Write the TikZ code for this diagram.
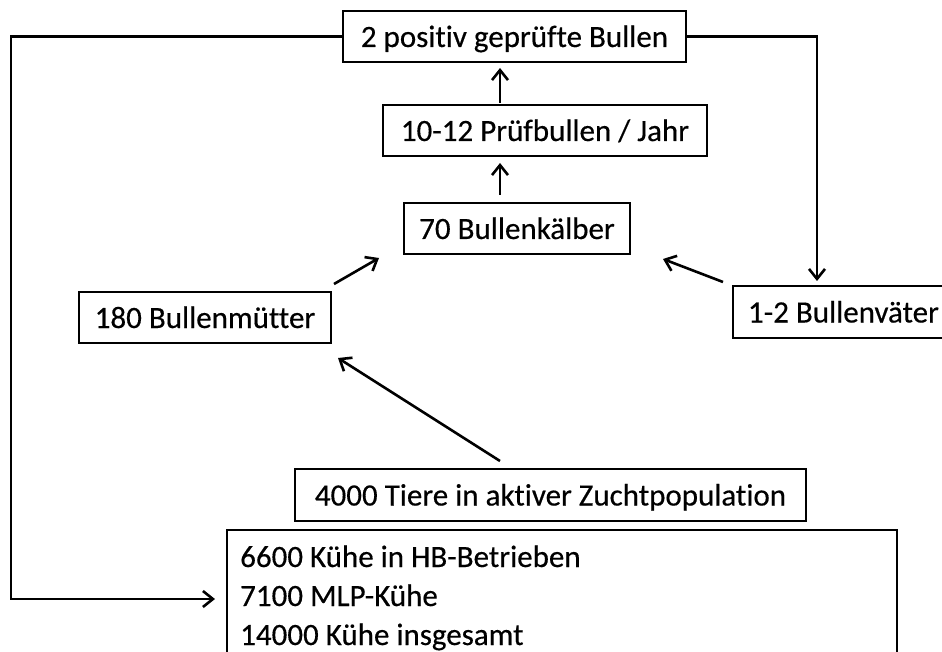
\documentclass[tikz,border=0pt]{standalone}
\usepackage{fontspec}
\setmainfont{Carlito}[Ligatures=NoCommon, FakeBold=0.4]
\usetikzlibrary{arrows.meta,calc}

\tikzset{
  box/.style={draw=black, line width=2pt, rectangle, inner sep=0pt,
              minimum height=51pt, text height=28pt, text depth=7pt,
              font=\fontsize{31}{37}\selectfont},
  line/.style={draw=black, line width=2.6pt, line join=miter},
  arr/.style={line, -{Straight Barb[length=10pt,width=16pt,line width=2.6pt]}},
  plain/.style={inner sep=0pt, anchor=base west, font=\fontsize{31}{37}\selectfont}
}

\begin{document}
\begin{tikzpicture}[x=1pt, y=-1pt]
  \useasboundingbox (0,0) rectangle (942,652);

  % boxes of the breeding scheme
  \node[box, minimum width=343pt] (top)   at (514.5,36.5)  {2 positiv geprüfte Bullen};
  \node[box, minimum width=324pt] (prue)  at (545,130.5)   {10-12 Prüfbullen / Jahr};
  \node[box, minimum width=226pt] (kalb)  at (517,228.5)   {70 Bullenkälber};
  \node[box, minimum width=252pt] (mue)   at (205,317.5)   {180 Bullenmütter};
  \node[box, anchor=west, inner xsep=15pt, minimum height=52pt] (vat) at (732,312) {1-2 Bullenväter};
  \node[box, minimum width=511pt, minimum height=52pt] (zucht) at (550.5,495) {4000 Tiere in aktiver Zuchtpopulation};
  \node[box, anchor=north west, minimum width=670pt, minimum height=170pt] (herd) at (226,529) {};

  % herd figures
  \node[plain] (h1) at (240,567) {6600 Kühe in HB-Betrieben};
  \node[plain] (h2) at (240,606) {7100 MLP-Kühe};
  \node[plain] (h3) at (240,645) {14000 Kühe insgesamt};

  % helper coordinates for the routed lines
  \coordinate (ax) at (500,0);
  \coordinate (lc) at (11,599);
  \coordinate (rc) at (817,0);

  % vertical chain
  \draw[arr, shorten <=1pt, shorten >=5pt] (prue.north -| ax) -- (top.south -| ax);
  \draw[arr, shorten <=7pt, shorten >=6pt] (kalb.north -| ax) -- (prue.south -| ax);

  % parents to calves
  \draw[arr] ($(mue.north east)+(2,-7)$) -- ($(kalb.south west)+(-24,3)$);
  \draw[arr] ($(vat.north west)+(-9,-3)$) -- ($(kalb.south east)+(32,4)$);

  % population to bull dams
  \draw[arr] ($(zucht.north)+(-50.5,-7)$) -- ($(mue.south east)+(6,14)$);

  % feedback of proven bulls
  \draw[arr, shorten >=11pt] (top.west) -| (lc) -- (lc -| herd.west);
  \draw[arr, shorten >=4pt] (top.east) -| (rc |- vat.north);
\end{tikzpicture}
\end{document}
